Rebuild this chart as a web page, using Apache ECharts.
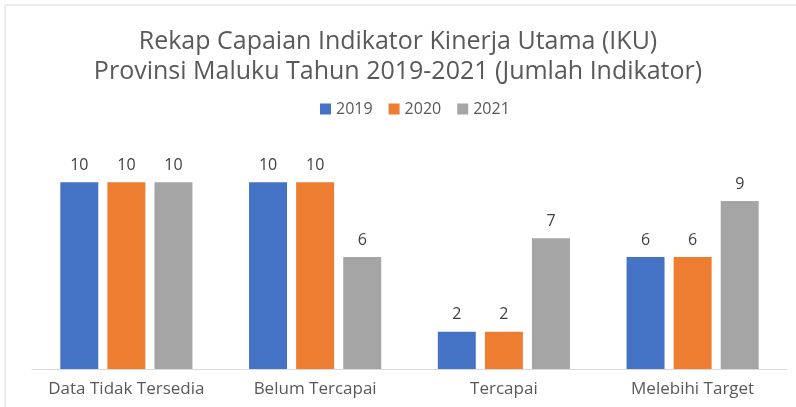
<!DOCTYPE html>
<html>
<head>
<meta charset="utf-8">
<script src="https://cdn.jsdelivr.net/npm/echarts@6/dist/echarts.min.js"></script>
<style>
    html, body {margin: 0; padding: 0; background: #fff;}
    #chart_1 {width: 796px; height: 407px;}
</style>
</head>
<body>
<div id="chart_1"></div>
<script>
var categories = ['Data Tidak Tersedia', 'Belum Tercapai', 'Tercapai', 'Melebihi Target'];
var years = ['2019', '2020', '2021'];
var data2019 = [10, 10, 2, 6];
var data2020 = [10, 10, 2, 6];
var data2021 = [10, 6, 7, 9];
var colors = ['#4472C4', '#ED7D31', '#A5A5A5'];

var font = '"Open Sans", sans-serif';

function barSeries(name, values, color) {
    return {
        name: name,
        type: 'bar',
        data: values,
        barGap: '24%',
        barCategoryGap: '30%',
        itemStyle: {color: color},
        label: {
            show: true,
            position: 'top',
            distance: 9,
            color: '#404040',
            fontSize: 16,
            fontFamily: font
        }
    };
}

var myChart = echarts.init(document.getElementById('chart_1'));
var option = {
    animation: false,
    backgroundColor: '#fff',
    color: colors,
    graphic: [
        {
            type: 'rect',
            shape: {x: 5, y: 5, width: 900, height: 500},
            style: {fill: 'none', stroke: '#d9d9d9', lineWidth: 1}
        }
    ],
    title: {
        text: 'Rekap Capaian Indikator Kinerja Utama (IKU)\nProvinsi Maluku Tahun 2019-2021 (Jumlah Indikator)',
        left: 'center',
        top: 22,
        textStyle: {
            color: '#595959',
            fontSize: 25,
            fontWeight: 'normal',
            fontFamily: font,
            lineHeight: 30
        }
    },
    legend: {
        data: years,
        top: 96,
        left: 315,
        itemWidth: 11,
        itemHeight: 11,
        itemGap: 16,
        icon: 'rect',
        textStyle: {color: '#595959', fontSize: 16, fontFamily: font}
    },
    grid: {
        left: 32,
        right: 9,
        top: 145,
        bottom: 38
    },
    xAxis: {
        type: 'category',
        data: categories,
        axisLine: {lineStyle: {color: '#d9d9d9'}},
        axisTick: {show: false},
        axisLabel: {color: '#595959', fontSize: 17, fontFamily: font, margin: 12, interval: 0}
    },
    yAxis: {
        type: 'value',
        min: 0,
        max: 12,
        interval: 2,
        show: false,
        splitLine: {show: false}
    },
    series: [
        barSeries(years[0], data2019, colors[0]),
        barSeries(years[1], data2020, colors[1]),
        barSeries(years[2], data2021, colors[2])
    ]
};

myChart.setOption(option);
</script>
</body>
</html>
